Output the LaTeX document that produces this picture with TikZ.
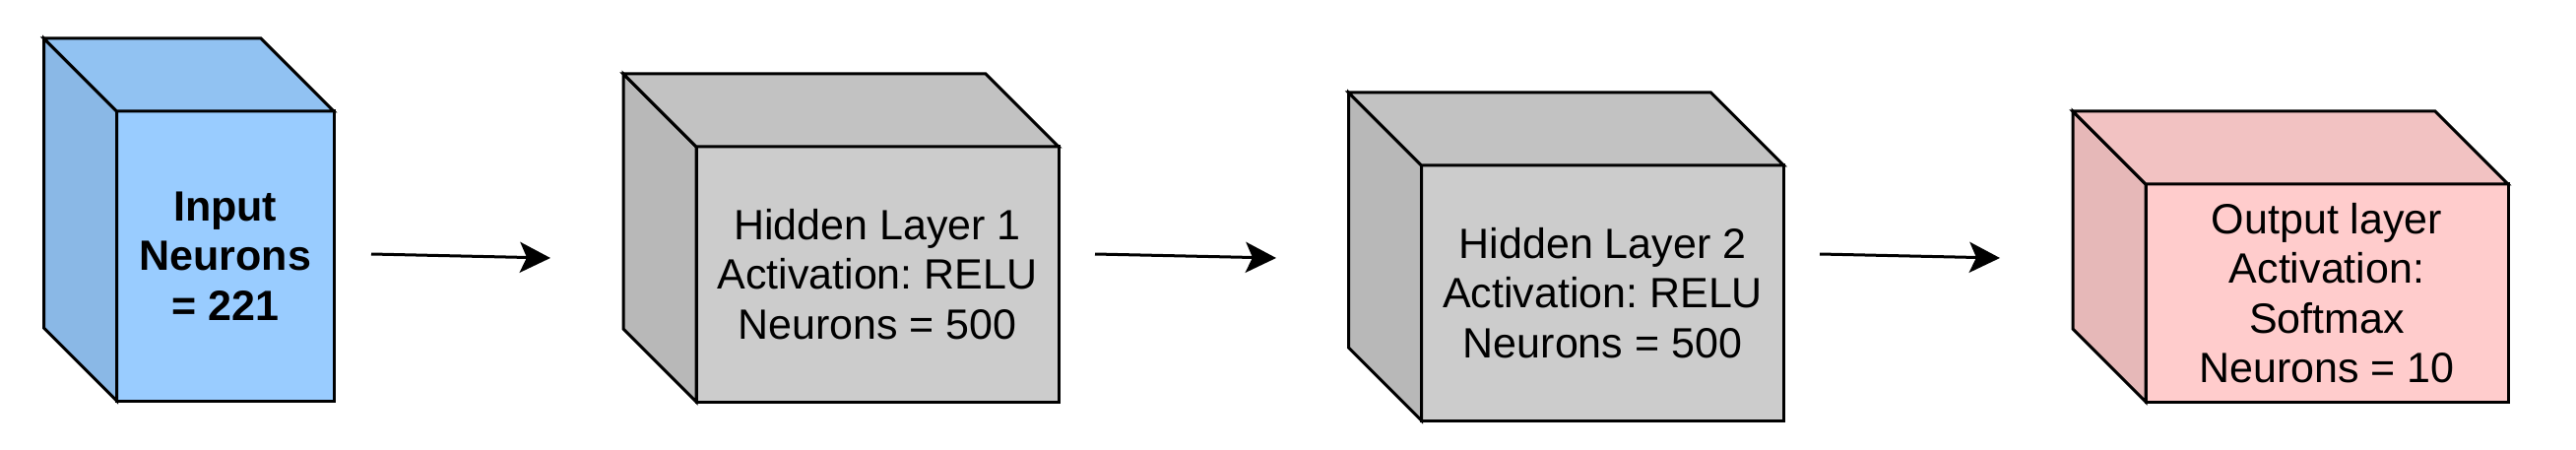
\documentclass[tikz,border=0pt]{standalone}
\usepackage{fontspec}
\setmainfont{Liberation Sans}
\usetikzlibrary{arrows.meta}
\frenchspacing
\definecolor{blueFront}{RGB}{153,204,255}
\definecolor{blueTop}{RGB}{145,194,242}
\definecolor{blueSide}{RGB}{138,184,230}
\definecolor{grayFront}{RGB}{204,204,204}
\definecolor{grayTop}{RGB}{194,194,194}
\definecolor{graySide}{RGB}{184,184,184}
\definecolor{pinkFront}{RGB}{255,204,204}
\definecolor{pinkTop}{RGB}{242,194,194}
\definecolor{pinkSide}{RGB}{230,184,184}
\newcommand\cubefaces[3]{%
  \draw[edge, fill=#3] (#1.north west) -- ++(-74,-74)
    -- ([shift={(-74,-74)}]#1.south west) -- (#1.south west) -- cycle;
  \draw[edge, fill=#2] (#1.north west) -- ++(-74,-74)
    -- ([shift={(-74,-74)}]#1.north east) -- (#1.north east) -- cycle;
}
\begin{document}
\begin{tikzpicture}[x=1pt,y=-1pt,
  edge/.style={draw=black, line width=3pt, line join=miter},
  face/.style={edge, outer sep=0pt, inner sep=0pt, anchor=north west,
    align=center, text=black, font=\fontsize{43}{50.5}\selectfont\frenchspacing},
  flow/.style={-{Stealth[length=31pt,width=31pt,inset=7pt]}, line width=3pt}]
\path[use as bounding box] (0,0) rectangle (2616,457);

\node[face, fill=blueFront, minimum width=220.5, minimum height=294] (f1) at (118.5,113)
  {\bfseries Input\\\bfseries Neurons\\\bfseries = 221};
\node[face, fill=grayFront, minimum width=368, minimum height=259] (f2) at (707,149)
  {Hidden Layer 1\\Activation: RELU\\Neurons = 500};
\node[face, fill=grayFront, minimum width=368, minimum height=259] (f3) at (1443.5,168)
  {Hidden Layer 2\\Activation: RELU\\Neurons = 500};
\node[face, fill=pinkFront, minimum width=368, minimum height=221] (f4) at (2179,187)
  {Output layer\\Activation:\\Softmax\\Neurons = 10};

\cubefaces{f1}{blueTop}{blueSide}
\cubefaces{f2}{grayTop}{graySide}
\cubefaces{f3}{grayTop}{graySide}
\cubefaces{f4}{pinkTop}{pinkSide}

\coordinate (a1s) at (377,258);  \coordinate (a1e) at (559,262);
\coordinate (a2s) at (1112,258); \coordinate (a2e) at (1296,262);
\coordinate (a3s) at (1848,258); \coordinate (a3e) at (2031,262);
\draw[flow] (a1s) -- (a1e);
\draw[flow] (a2s) -- (a2e);
\draw[flow] (a3s) -- (a3e);
\end{tikzpicture}
\end{document}
